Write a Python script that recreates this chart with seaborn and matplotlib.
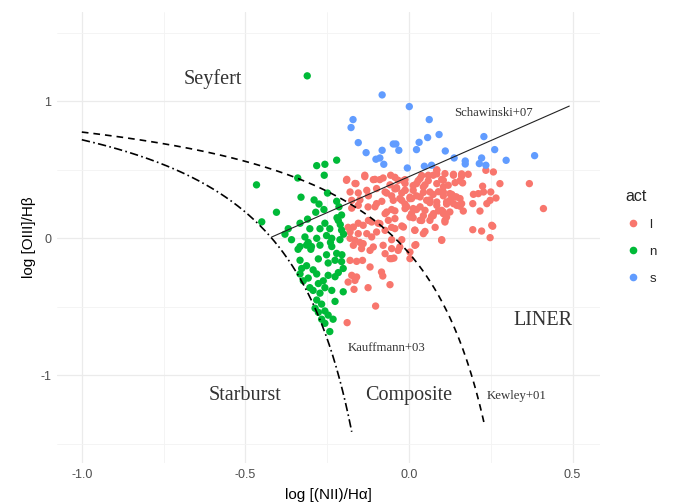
import matplotlib
matplotlib.use("Agg")
import matplotlib.pyplot as plt
import seaborn as sns
import numpy as np
import pandas as pd
from matplotlib.lines import Line2D

# ---- data ----
s_x = [-0.082, 0.001, -0.171, -0.177, 0.062, 0.092, 0.057, 0.031, 0.023, -0.155, -0.048, -0.040,
       -0.031, -0.082, -0.131, -0.101, -0.089, -0.077, -0.005, 0.111, 0.138, 0.172, 0.172, 0.047,
       0.069, 0.229, 0.262, 0.222, 0.215, 0.235, 0.297, 0.384]
s_y = [1.046, 0.961, 0.866, 0.808, 0.866, 0.757, 0.735, 0.700, 0.647, 0.698, 0.688, 0.688,
       0.642, 0.642, 0.625, 0.577, 0.586, 0.540, 0.513, 0.637, 0.586, 0.564, 0.542, 0.526,
       0.533, 0.742, 0.647, 0.586, 0.545, 0.533, 0.569, 0.603]

n_x = [-0.311, -0.282, -0.257, -0.221, -0.259, -0.466, -0.340, -0.330, -0.290, -0.275, -0.249, -0.221,
       -0.214, -0.206, -0.216, -0.405, -0.450, -0.285, -0.333, -0.257, -0.242, -0.206, -0.272, -0.303,
       -0.369, -0.379, -0.359, -0.318, -0.308, -0.282, -0.252, -0.236, -0.211, -0.333, -0.298, -0.236,
       -0.339, -0.313, -0.300, -0.272, -0.221, -0.252, -0.277, -0.333, -0.313, -0.247, -0.226, -0.206,
       -0.201, -0.293, -0.282, -0.333, -0.323, -0.308, -0.262, -0.247, -0.226, -0.216, -0.277, -0.257,
       -0.303, -0.293, -0.236, -0.272, -0.201, -0.226, -0.282, -0.267, -0.287, -0.257, -0.277, -0.247,
       -0.267, -0.232, -0.257, -0.242, -0.210, -0.200, -0.205, -0.220, -0.328, -0.260, -0.310, -0.240]
n_y = [1.185, 0.53, 0.54, 0.57, 0.46, 0.39, 0.44, 0.30, 0.28, 0.25, 0.33, 0.27,
       0.23, 0.17, 0.13, 0.19, 0.12, 0.19, 0.11, 0.11, 0.07, 0.06, 0.07, 0.07,
       0.07, 0.03, -0.01, 0.01, -0.03, 0.00, 0.02, 0.00, -0.01, -0.06, -0.06, -0.06,
       -0.08, -0.05, -0.08, -0.05, -0.11, -0.12, -0.15, -0.16, -0.20, -0.18, -0.16, -0.17,
       -0.22, -0.23, -0.26, -0.26, -0.31, -0.29, -0.31, -0.27, -0.28, -0.25, -0.33, -0.36,
       -0.36, -0.38, -0.38, -0.40, -0.39, -0.46, -0.45, -0.48, -0.51, -0.53, -0.54, -0.56,
       -0.59, -0.59, -0.62, -0.68, 0.10, 0.03, -0.12, 0.15, -0.22, 0.21, 0.14, -0.03]

l_x = [0.136, 0.161, 0.181, 0.141, 0.164, 0.235, 0.258, 0.278, 0.368, 0.225, 0.197, 0.212,
       0.228, 0.250, 0.266, 0.248, 0.238, 0.195, 0.156, 0.166, 0.217, 0.411, 0.253, 0.195,
       0.222, 0.248, 0.100, 0.105, 0.120, 0.105, 0.125, 0.141, 0.115, 0.136, 0.100, 0.125,
       0.110, 0.115,
       -0.135, -0.109, -0.089, -0.056, -0.033, -0.012, 0.034, 0.059, 0.085, 0.110, -0.191, -0.162,
       -0.180, -0.155, -0.129, -0.099, -0.073, -0.038, -0.012, 0.023, 0.044, 0.064, 0.085, 0.105,
       0.145, 0.161, 0.125, 0.085, 0.054, 0.034, 0.003, -0.022, -0.048, -0.068, -0.099, -0.125,
       -0.155, -0.175, -0.012, 0.013, 0.049, 0.075, 0.105, 0.110, 0.064, 0.034, 0.003, -0.043,
       -0.063, -0.089, -0.114, -0.140, -0.170, -0.180, -0.155, -0.129, -0.099, -0.073, -0.043, -0.017,
       0.018, 0.044, 0.256,
       -0.165, -0.140, -0.109, -0.079, -0.053, -0.028, 0.003, 0.018, -0.073, -0.053, -0.033, 0.003,
       -0.119, -0.145, -0.170,
       -0.180, -0.160, -0.142, -0.119, -0.084, -0.080, -0.175, -0.160, -0.165, -0.186, -0.168, -0.125,
       -0.058, -0.102, -0.189, -0.058, -0.046, 0.021,
       -0.190, -0.165, -0.135, -0.104, -0.079, -0.058, -0.043, -0.012, 0.013, 0.028, 0.049, 0.074,
       0.085, 0.090, 0.064, 0.034, 0.039, 0.069, 0.090, 0.018, 0.049, 0.080, 0.100, -0.022,
       -0.053, -0.073, -0.104, -0.124, -0.150, -0.175, -0.186, -0.155, -0.124, -0.094, -0.114, -0.150,
       -0.180, -0.053, -0.022, -0.043, -0.012, 0.008, 0.008, -0.022, -0.068, -0.083,
       -0.043, -0.017, -0.038, -0.012, 0.013, 0.039, 0.059, 0.085, 0.100, 0.136, 0.156, 0.161,
       -0.028, 0.003, 0.023, 0.044, 0.074, 0.105, 0.131, 0.064, 0.085, 0.115, 0.146, -0.007,
       0.023, 0.044, 0.013, 0.074, 0.105, -0.053, -0.053, 0.156]
l_y = [0.467, 0.453, 0.467, 0.406, 0.404, 0.496, 0.484, 0.399, 0.399, 0.380, 0.321, 0.326,
       0.338, 0.338, 0.294, 0.277, 0.253, 0.253, 0.234, 0.199, 0.199, 0.217, 0.095, 0.063,
       0.053, 0.005, -0.015, 0.423, 0.387, 0.338, 0.326, 0.302, 0.265, 0.253, 0.204, 0.192,
       0.119, 0.155,
       0.460, 0.428, 0.428, 0.460, 0.423, 0.428, 0.436, 0.460, 0.496, 0.472, 0.423, 0.399,
       0.338, 0.331, 0.350, 0.363, 0.338, 0.363, 0.350, 0.399, 0.375, 0.338, 0.399, 0.375,
       0.302, 0.253, 0.277, 0.265, 0.277, 0.302, 0.290, 0.277, 0.277, 0.192, 0.253, 0.229,
       0.241, 0.277, 0.217, 0.217, 0.204, 0.180, 0.192, 0.131, 0.131, 0.131, 0.155, 0.144,
       0.131, 0.107, 0.119, 0.095, 0.082, 0.046, 0.034, 0.034, 0.046, 0.058, 0.071, 0.082,
       0.058, 0.034, 0.088,
       -0.015, -0.039, -0.063, -0.051, -0.075, -0.063, -0.100, -0.051, -0.112, -0.148, -0.088, -0.148,
       -0.088, -0.075, -0.051,
       -0.161, -0.168, -0.161, -0.209, -0.246, -0.275, -0.270, -0.282, -0.307, -0.319, -0.372, -0.360,
       -0.338, -0.494, -0.615, -0.148, -0.144, -0.046,
       0.43, 0.40, 0.45, 0.43, 0.44, 0.39, 0.36, 0.40, 0.35, 0.42, 0.39, 0.46,
       0.50, 0.34, 0.28, 0.23, 0.13, 0.16, 0.20, 0.06, 0.05, 0.08, -0.01, -0.01,
       0.08, 0.18, 0.23, 0.31, 0.28, 0.22, 0.08, 0.11, 0.13, 0.11, 0.01, -0.03,
       0.00, -0.01, 0.09, 0.20, 0.25, 0.18, 0.29, 0.33, 0.33, 0.27,
       0.445, 0.42, 0.37, 0.35, 0.385, 0.458, 0.42, 0.47, 0.43, 0.46, 0.42, 0.47,
       0.29, 0.30, 0.31, 0.335, 0.32, 0.31, 0.32, 0.26, 0.24, 0.25, 0.24, 0.23,
       0.21, 0.165, 0.15, 0.165, 0.18, 0.21, 0.31, 0.29]

act_levels = ["l", "n", "s"]
palette = {"l": "#F8766D", "n": "#00BA38", "s": "#619CFF"}

# demarcation lines (published coefficients)
kew_a, kew_b, kew_c = 0.61, 0.47, 1.19      # Kewley+01
kau_a, kau_b, kau_c = 0.61, 0.05, 1.30      # Kauffmann+03
sch_m, sch_c = 1.05, 0.45                   # Schawinski+07
kew_range = [-1.0, 0.23]
kau_range = [-1.0, -0.175]
sch_range = [-0.42, 0.49]

df = pd.DataFrame({
    "x": l_x + n_x + s_x,
    "y": l_y + n_y + s_y,
    "act": ["l"] * len(l_x) + ["n"] * len(n_x) + ["s"] * len(s_x),
})

# ---- figure ----
sns.set_style("white")
plt.rcParams["font.family"] = ["Liberation Sans", "DejaVu Sans"]

fig = plt.figure(figsize=(6.78, 5.04), dpi=100)
ax = fig.add_axes([0.084, 0.081, 0.801, 0.895])

for v in [-1.0, -0.5, 0.0, 0.5]:
    ax.axvline(v, color="#EBEBEB", lw=0.9, zorder=0)
for v in [-0.75, -0.25, 0.25]:
    ax.axvline(v, color="#F3F3F3", lw=0.6, zorder=0)
for v in [-1, 0, 1]:
    ax.axhline(v, color="#EBEBEB", lw=0.9, zorder=0)
for v in [-1.5, -0.5, 0.5, 1.5]:
    ax.axhline(v, color="#F3F3F3", lw=0.6, zorder=0)

sns.scatterplot(data=df, x="x", y="y", hue="act", hue_order=act_levels, palette=palette,
                s=28, linewidth=0, alpha=1, ax=ax, legend=False, zorder=3)

xk = np.linspace(kew_range[0], kew_range[1], 300)
sns.lineplot(x=xk, y=kew_a / (xk - kew_b) + kew_c, ax=ax, color="black", lw=1.2,
             linestyle=(0, (4, 3)), sort=False, zorder=4)
xf = np.linspace(kau_range[0], kau_range[1], 300)
sns.lineplot(x=xf, y=kau_a / (xf - kau_b) + kau_c, ax=ax, color="black", lw=1.2,
             linestyle=(0, (5, 2, 1, 2)), sort=False, zorder=4)
xs = np.array(sch_range)
sns.lineplot(x=xs, y=sch_m * xs + sch_c, ax=ax, color="#222222", lw=0.8, zorder=4)

serif = ["Liberation Serif", "DejaVu Serif"]
tc = "#333333"
big, small = 14.5, 9.2
ax.text(-0.6, 1.16, "Seyfert", family=serif, fontsize=big, color=tc, ha="center", va="center")
ax.text(0.41, -0.60, "LINER", family=serif, fontsize=big, color=tc, ha="center", va="center")
ax.text(-0.5, -1.15, "Starburst", family=serif, fontsize=big, color=tc, ha="center", va="center")
ax.text(0.0, -1.15, "Composite", family=serif, fontsize=big, color=tc, ha="center", va="center")
ax.text(0.257, 0.912, "Schawinski+07", family=serif, fontsize=small, color=tc, ha="center", va="center")
ax.text(-0.07, -0.80, "Kauffmann+03", family=serif, fontsize=small, color=tc, ha="center", va="center")
ax.text(0.33, -1.15, "Kewley+01", family=serif, fontsize=small, color=tc, ha="center", va="center")

ax.set_xlim(-1.076, 0.584)
ax.set_ylim(-1.64, 1.65)
ax.set_xticks([-1.0, -0.5, 0.0, 0.5])
ax.set_xticklabels(["-1.0", "-0.5", "0.0", "0.5"])
ax.set_yticks([-1, 0, 1])
ax.set_yticklabels(["-1", "0", "1"])
ax.tick_params(axis="both", length=0, labelsize=9, labelcolor="#4D4D4D", pad=4)
for sp in ax.spines.values():
    sp.set_visible(False)
ax.set_xlabel("log [(NII)/H\u03b1]", fontsize=11, color="black", labelpad=5)
ax.set_ylabel("log [OIII]/H\u03b2", fontsize=11, color="black", labelpad=3)

# legend
handles = [Line2D([], [], marker="o", linestyle="", markersize=5.5, markerfacecolor=palette[k],
                  markeredgewidth=0) for k in act_levels]
leg = fig.legend(handles, act_levels, title="act", loc="center left",
                 bbox_to_anchor=(0.905, 0.53), frameon=False, fontsize=9.5,
                 title_fontsize=11.5, labelspacing=1.1, handletextpad=0.6, handlelength=1.2)
leg._legend_box.align = "left"

fig.savefig("out.png", dpi=100)
